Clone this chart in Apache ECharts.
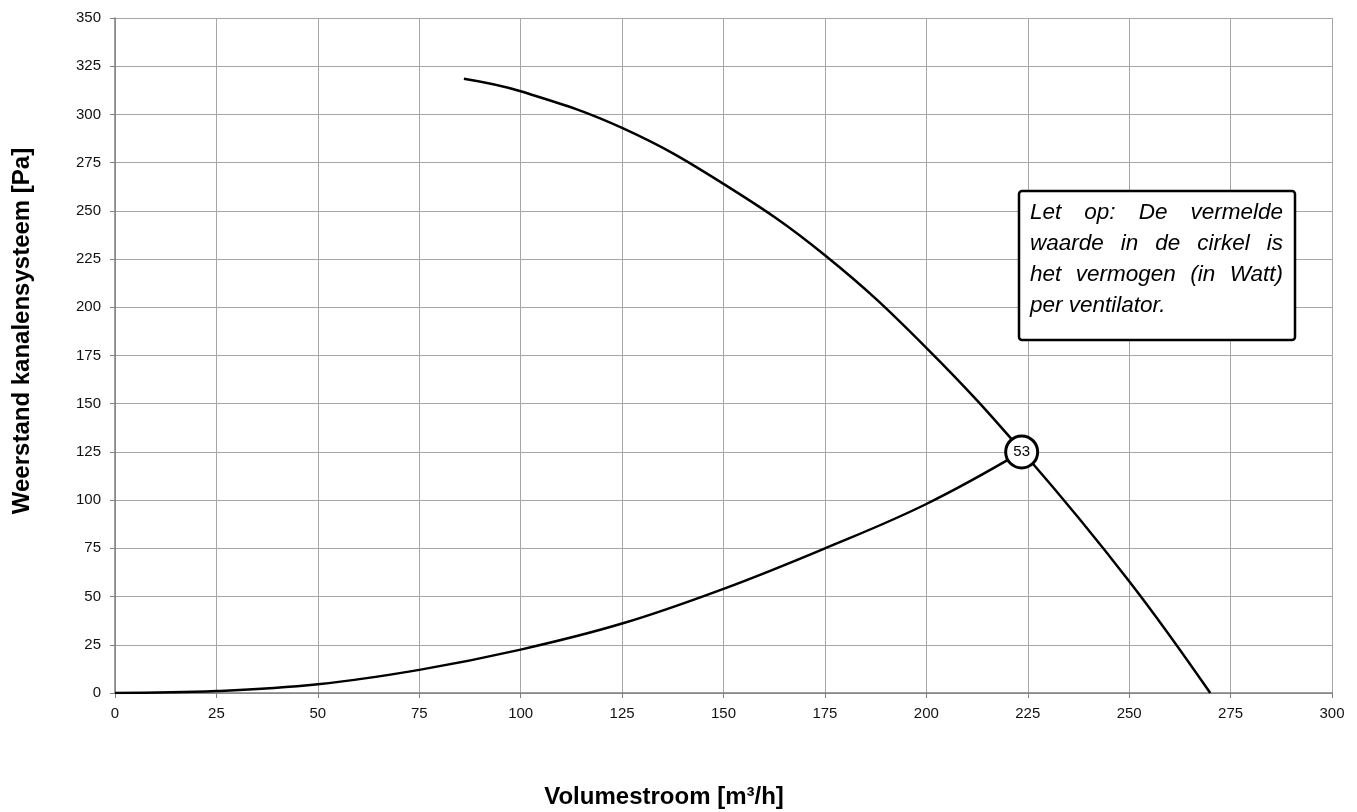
<!DOCTYPE html>
<html><head><meta charset="utf-8">
<script src="https://cdn.jsdelivr.net/npm/echarts@6/dist/echarts.min.js"></script>
<style>html,body{margin:0;padding:0;background:#fff}#c{width:1357px;height:812px}</style>
</head><body><div id="c"></div>
<script>
const xTicks = [0,25,50,75,100,125,150,175,200,225,250,275,300];
const yTicks = [0,25,50,75,100,125,150,175,200,225,250,275,300,325,350];
const fanX = [86,100,125,150,175,200,225,250,270];
const fanY = [318.5,312,293,264,227,179,122,58,0];
const sysX = [0,25,50,75,100,125,150,175,200,223.5];
const sysY = [0,1,4.5,12,22.5,36,54,75,98,125];
const opX = [223.5];
const opY = [125];
const opLabel = ['53'];
const noteLines = ['Let op: De vermelde','waarde in de cirkel is','het vermogen (in Watt)','per ventilator.'];
const yTitle = 'Weerstand kanalensysteem [Pa]';
const xTitle = 'Volumestroom [m\u00b3/h]';

const chart = echarts.init(document.getElementById('c'));
const zip = (a,b)=>a.map((v,i)=>[v,b[i]]);

const noteFont = 'italic 22.5px "Liberation Sans", Arial, sans-serif';
const cv = document.createElement('canvas').getContext('2d');
cv.font = noteFont;
const boxL = 1019, boxT = 191, boxW = 276, boxH = 149;
const txtL = 1030, txtR = 1283, lineTop = 213, lineH = 31;
const noteEls = [];
noteLines.forEach((ln, li) => {
  const words = ln.split(' ');
  const y = lineTop + li*lineH;
  if (li === noteLines.length-1 || words.length === 1) {
    noteEls.push({type:'text', x: txtL, y: y, style:{text: ln, font: noteFont, fill:'#000', textVerticalAlign:'middle', textAlign:'left'}});
    return;
  }
  const widths = words.map(w=>cv.measureText(w).width);
  const total = widths.reduce((a,b)=>a+b,0);
  const gap = Math.max(4, (txtR - txtL - total)/(words.length-1));
  let x = txtL;
  words.forEach((w,i)=>{
    noteEls.push({type:'text', x: x, y: y, style:{text: w, font: noteFont, fill:'#000', textVerticalAlign:'middle', textAlign:'left'}});
    x += widths[i] + gap;
  });
});

const labelStyle = {color:'#111', fontSize:15, fontFamily:'Liberation Sans, Arial'};

chart.setOption({
  animation:false,
  grid:{left:115, right:25, top:18, bottom:119},
  xAxis:{type:'value', min:0, max:300, interval:25,
    axisLine:{show:true, onZero:false, lineStyle:{color:'#7f7f7f', width:1.5}},
    axisTick:{show:true, length:5, lineStyle:{color:'#7f7f7f'}},
    axisLabel:Object.assign({margin:13}, labelStyle),
    splitLine:{show:true, lineStyle:{color:'#a6a6a6', width:1}}},
  yAxis:{type:'value', min:0, max:350, interval:25,
    axisLine:{show:true, lineStyle:{color:'#7f7f7f', width:1.5}},
    axisTick:{show:true, length:5, lineStyle:{color:'#7f7f7f'}},
    axisLabel:Object.assign({margin:14}, labelStyle),
    splitLine:{show:true, lineStyle:{color:'#a6a6a6', width:1}}},
  series:[
    {type:'line', data: zip(fanX, fanY), smooth:0.4, symbol:'none', lineStyle:{color:'#000', width:2.5}, z:3},
    {type:'line', data: zip(sysX, sysY), smooth:0.4, symbol:'none', lineStyle:{color:'#000', width:2.5}, z:3},
    {type:'scatter', data: zip(opX, opY), symbol:'circle', symbolSize:32,
      itemStyle:{color:'#fff', borderColor:'#000', borderWidth:3, opacity:1}, z:5,
      emphasis:{disabled:true},
      label:{show:true, position:'inside', formatter:(p)=>opLabel[p.dataIndex], color:'#000', fontSize:15, fontFamily:'Liberation Sans, Arial'}}
  ],
  graphic:[
    {type:'text', x: 22, y: 331, rotation: Math.PI/2, style:{text: yTitle, font:'bold 24px "Liberation Sans", Arial', fill:'#000', textAlign:'center', textVerticalAlign:'middle'}},
    {type:'text', x: 664, y: 797, style:{text: xTitle, font:'bold 24px "Liberation Sans", Arial', fill:'#000', textAlign:'center', textVerticalAlign:'middle'}},
    {type:'rect', shape:{x:boxL, y:boxT, width:boxW, height:boxH, r:3}, style:{fill:'#fff', stroke:'#000', lineWidth:2.5}, z:10},
    {type:'group', z:11, children: noteEls.map(e=>Object.assign(e,{z:11}))}
  ]
});
</script></body></html>
